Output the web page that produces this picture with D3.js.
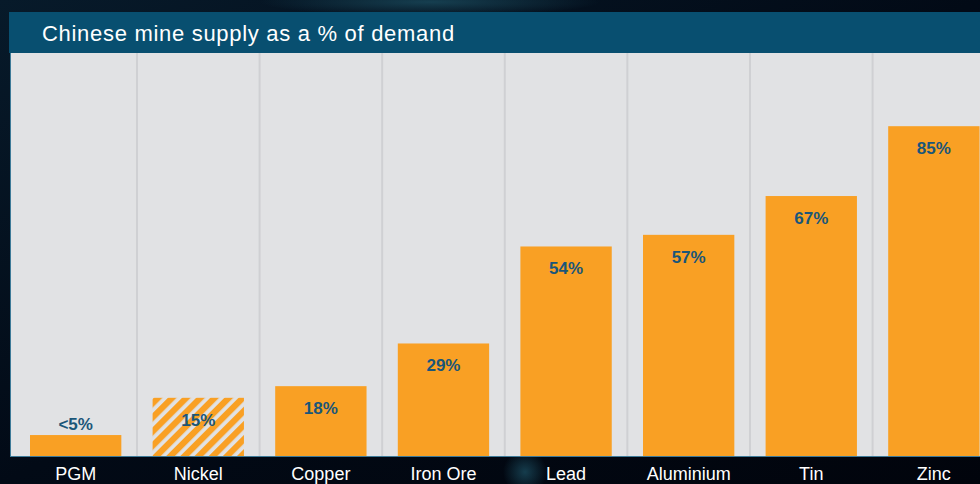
<!DOCTYPE html>
<html><head><meta charset="utf-8">
<script src="https://cdn.jsdelivr.net/npm/d3@7"></script>
<style>
html,body{margin:0;padding:0;background:#010610;}
svg{display:block;}
</style></head>
<body>
<svg id="c" width="980" height="484"></svg>
<script>
const title = "Chinese mine supply as a % of demand";
const categories = ["PGM","Nickel","Copper","Iron Ore","Lead","Aluminium","Tin","Zinc"];
const values = [5.4, 15, 18, 29, 54, 57, 67, 85];
const valueLabels = ["<5%","15%","18%","29%","54%","57%","67%","85%"];
const hatched = ["Nickel"];

const W = 980, H = 484;
const svg = d3.select("#c");
const defs = svg.append("defs");

// background
const bg = defs.append("linearGradient").attr("id","bg").attr("x1",0).attr("y1",0).attr("x2",1).attr("y2",1);
bg.append("stop").attr("offset","0%").attr("stop-color","#071a2a");
bg.append("stop").attr("offset","50%").attr("stop-color","#020a16");
bg.append("stop").attr("offset","100%").attr("stop-color","#01040c");
svg.append("rect").attr("width",W).attr("height",H).attr("fill","url(#bg)");
const glow = defs.append("radialGradient").attr("id","glow");
glow.append("stop").attr("offset","0%").attr("stop-color","#1a4a5c").attr("stop-opacity",0.8);
glow.append("stop").attr("offset","100%").attr("stop-color","#1a4a5c").attr("stop-opacity",0);
svg.append("ellipse").attr("cx",430).attr("cy",2).attr("rx",170).attr("ry",14).attr("fill","url(#glow)");
svg.append("ellipse").attr("cx",525).attr("cy",472).attr("rx",22).attr("ry",22).attr("fill","url(#glow)");

// header
const panelX = 10, panelR = 980, headTop = 12, headBot = 53, base = 456;
svg.append("rect").attr("x",9).attr("y",headTop).attr("width",panelR-9).attr("height",headBot-headTop).attr("fill","#084f70");
svg.append("text").attr("x",42).attr("y",41).attr("fill","#ffffff")
  .attr("font-family","Liberation Sans, Arial, sans-serif").attr("font-size",22)
  .attr("letter-spacing",0.7).text(title);

// panel
svg.append("rect").attr("x",panelX).attr("y",headBot).attr("width",panelR-panelX).attr("height",base-headBot).attr("fill","#e1e2e4");
svg.append("line").attr("x1",panelX+0.5).attr("x2",panelX+0.5).attr("y1",headBot).attr("y2",base).attr("stroke","#3d7a98").attr("stroke-width",1);

// scales
const stepPx = 122.6;
const x = d3.scaleBand().domain(categories).paddingInner(0.255).paddingOuter(0.1)
  .range([30 - 0.1*stepPx, 30 - 0.1*stepPx + stepPx*(categories.length - 0.255 + 0.2)]);
const y = d3.scaleLinear().domain([0,100]).range([base, 68]);

// dividers
const step = x.step();
categories.slice(1).forEach(c => {
  const xv = x(c) - (step - x.bandwidth())/2;
  svg.append("line").attr("x1",xv).attr("x2",xv).attr("y1",headBot).attr("y2",base)
    .attr("stroke","#cfd0d3").attr("stroke-width",2);
});

// hatch pattern
const pat = defs.append("pattern").attr("id","hatch").attr("patternUnits","userSpaceOnUse")
  .attr("width",10).attr("height",10).attr("patternTransform","rotate(45)");
pat.append("rect").attr("width",10).attr("height",10).attr("fill","#e1e2e4");
pat.append("rect").attr("width",6.2).attr("height",10).attr("fill","#f9a024");

const data = categories.map((c,i)=>({c, v:values[i], l:valueLabels[i]}));
svg.selectAll("rect.bar").data(data).enter().append("rect").attr("class","bar")
  .attr("x",d=>x(d.c)).attr("width",x.bandwidth())
  .attr("y",d=>y(d.v)).attr("height",d=>base - y(d.v))
  .attr("fill",d=>hatched.includes(d.c) ? "url(#hatch)" : "#f9a024");

svg.selectAll("text.val").data(data).enter().append("text").attr("class","val")
  .attr("x",d=>x(d.c)+x.bandwidth()/2)
  .attr("y",d=> d.v < 10 ? y(d.v) - 5 : y(d.v) + 28)
  .attr("text-anchor","middle").attr("fill","#1a5679")
  .attr("font-family","Liberation Sans, Arial, sans-serif").attr("font-weight","bold").attr("font-size",17)
  .text(d=>d.l);

// baseline
svg.append("line").attr("x1",panelX).attr("x2",panelR).attr("y1",base+0.5).attr("y2",base+0.5).attr("stroke","#3d7a98").attr("stroke-width",1.2);

// axis labels
const axis = d3.axisBottom(x).tickSize(0).tickPadding(0);
const ag = svg.append("g").attr("transform",`translate(0,${base})`).call(axis);
ag.select(".domain").remove();
ag.selectAll("text").attr("fill","#ffffff").attr("font-family","Liberation Sans, Arial, sans-serif")
  .attr("font-size",18).attr("dy","0").attr("y",24);
</script>
</body></html>
